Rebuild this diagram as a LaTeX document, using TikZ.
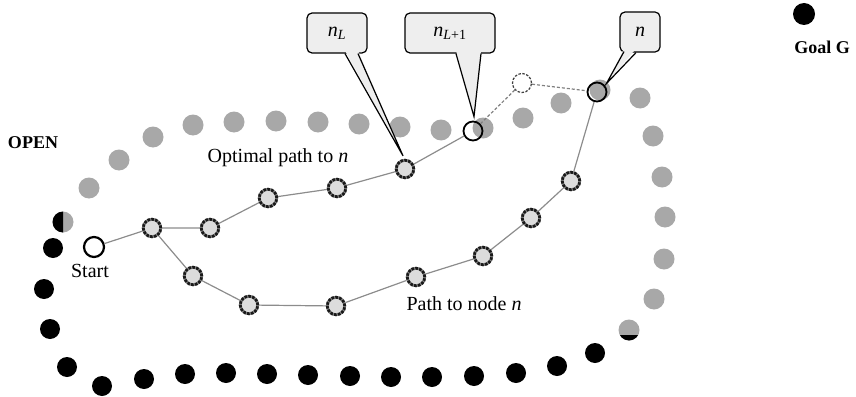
\documentclass[tikz,border=0pt]{standalone}
\usepackage{fontspec}
\setmainfont{Liberation Serif}
\usetikzlibrary{calc}
\definecolor{openfill}{HTML}{A8A8A8}
\definecolor{nodefill}{HTML}{DCDCDC}
\definecolor{tipfill}{HTML}{EEEEEE}

\begin{document}
\begin{tikzpicture}[
  x=1pt, y=-1pt,
  opendot/.style={fill=openfill},
  closeddot/.style={fill=black},
  pathnode/.style={circle, minimum size=17.5pt, inner sep=0pt, fill=nodefill,
    draw=black!50, line width=2.8pt,
    postaction={draw=black!90, line width=2.8pt, dash pattern=on 2.6pt off 1.3pt}},
  opennode/.style={circle, minimum size=19pt, inner sep=0pt, draw=black, line width=1.8pt},
  ghostnode/.style={circle, minimum size=19pt, inner sep=0pt, draw=black!75,
    line width=1.2pt, dash pattern=on 2.5pt off 1.5pt},
  edge/.style={draw=black!45, line width=1.2pt},
  ghostedge/.style={draw=black!50, line width=1.2pt, dash pattern=on 3pt off 2pt},
  tipbox/.style={draw=black, line width=1.2pt, fill=tipfill, rounded corners=5pt,
    minimum height=40pt, inner sep=0pt, font=\fontsize{20}{24}\selectfont},
  tipline/.style={draw=black, line width=1.2pt},
  lbl/.style={font=\fontsize{20}{24}\selectfont},
  boldlbl/.style={font=\fontsize{18}{22}\selectfont\bfseries}
]
  \useasboundingbox (0,0) rectangle (856,396);

  % OPEN boundary
  \foreach \x/\y in {89/188,119/160,153/137,193/125,234/122,276/121,318/122,
      359/124,400/127,441/130,483/128,523/118,561/103,600/90,640/98,653/136,
      662/177,665/217,664/259,654/299}
    \fill[opendot] (\x,\y) circle (10.5pt);
  % CLOSED boundary
  \foreach \x/\y in {53/248,44/289,50/329,67/367,102/386,144/379,185/374,
      226/373,267/374,308/375,350/376,391/377,432/377,474/376,516/373,
      557/366,595/353}
    \fill[closeddot] (\x,\y) circle (10pt);
  % dots on both boundaries
  \fill[opendot] (63,222) circle (10.5pt);
  \begin{scope}
    \clip (40,200) rectangle (63,245);
    \fill[closeddot] (63,222) circle (10.5pt);
  \end{scope}
  \fill[opendot] (629,330) circle (10.5pt);
  \begin{scope}
    \clip (610,335) rectangle (650,345);
    \fill[closeddot] (629,330) circle (10.5pt);
  \end{scope}

  % goal
  \fill[closeddot] (804,14) circle (11pt);
  \node[boldlbl] (goal) at (822,47) {Goal G};
  \node[boldlbl] (open) at (33,143) {OPEN};

  % search nodes
  \node[opennode, minimum size=20pt, line width=2.2pt] (start) at (94,247) {};
  \node[pathnode] (a1) at (152,228) {};
  \node[pathnode] (a2) at (210,228) {};
  \node[pathnode] (a3) at (268,198) {};
  \node[pathnode] (a4) at (337,188) {};
  \node[pathnode] (nl) at (405,169) {};
  \node[opennode] (nl1) at (473,131) {};
  \node[ghostnode] (succ) at (522,83) {};
  \node[opennode] (n) at (597,92) {};
  \node[pathnode] (b1) at (193,276) {};
  \node[pathnode] (b2) at (249,305) {};
  \node[pathnode] (b3) at (336,306) {};
  \node[pathnode] (b4) at (416,277) {};
  \node[pathnode] (b5) at (483,256) {};
  \node[pathnode] (b6) at (531,218) {};
  \node[pathnode] (b7) at (571,181) {};

  \draw[edge] (start) -- (a1) -- (a2) -- (a3) -- (a4) -- (nl) -- (nl1);
  \draw[edge] (a1) -- (b1) -- (b2) -- (b3) -- (b4) -- (b5) -- (b6) -- (b7) -- (n);
  \draw[ghostedge] (nl1) -- (succ) -- (n);

  \node[lbl] (startlbl) at (90,271) {Start};
  \node[lbl] (optlbl) at (278,158) {Optimal path to \textit{n}};
  \node[lbl] (pathlbl) at (464,304) {Path to node \textit{n}};

  % callouts
  \node[tipbox, minimum width=60pt] (boxL) at (337,33) {\textit{n}\textsubscript{\textit{L}}};
  \node[tipbox, minimum width=90pt] (boxL1) at (450,33) {\textit{n}\textsubscript{\textit{L}+1}};
  \node[tipbox, minimum width=40pt] (boxn) at (640,32) {\textit{n}};
  \coordinate (tipL) at ($(nl.north)+(-2,-3)$);
  \coordinate (tipL1) at ($(nl1.north)+(1,-4)$);
  \coordinate (tipn) at ($(n.north east)+(2,-1)$);

  \fill[tipfill] ($(boxL.south)+(8,-3)$) -- (tipL) -- ($(boxL.south)+(21,-3)$) -- cycle;
  \draw[tipline] ($(boxL.south)+(8,0)$) -- (tipL) -- ($(boxL.south)+(21,0)$);
  \fill[tipfill] ($(boxL1.south)+(6,-3)$) -- (tipL1) -- ($(boxL1.south)+(31,-3)$) -- cycle;
  \draw[tipline] ($(boxL1.south)+(6,0)$) -- (tipL1) -- ($(boxL1.south)+(31,0)$);
  \fill[tipfill] ($(boxn.south)+(-16,-4)$) -- (tipn) -- ($(boxn.south)+(-4,-4)$) -- cycle;
  \draw[tipline] ($(boxn.south)+(-16,-1)$) -- (tipn) -- ($(boxn.south)+(-4,0)$);
\end{tikzpicture}
\end{document}
